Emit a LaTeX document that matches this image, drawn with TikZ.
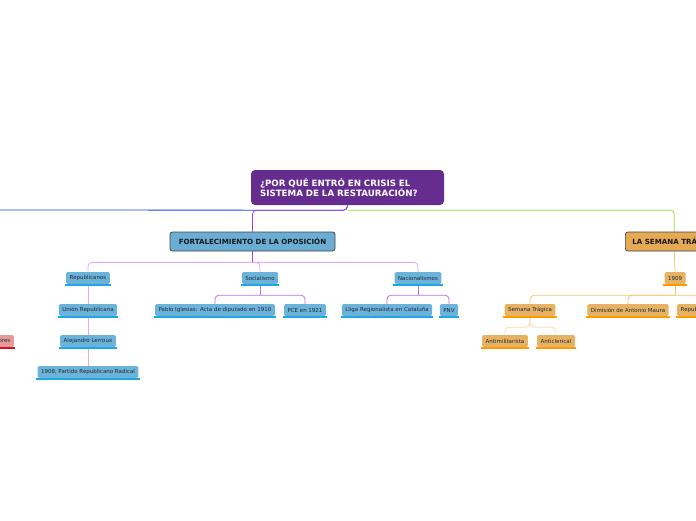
\documentclass[tikz,border=0pt]{standalone}
\usepackage{fontspec}
\setmainfont{DejaVu Sans}
\usetikzlibrary{positioning,backgrounds}

\definecolor{rootpurple}{HTML}{662D91}
\definecolor{mainblue}{HTML}{6AAED5}
\definecolor{leafblue}{HTML}{6CB3D9}
\definecolor{barblue}{HTML}{1EA6E6}
\definecolor{mainorange}{HTML}{E6AA55}
\definecolor{leaforange}{HTML}{E8B263}
\definecolor{barorange}{HTML}{FF9A00}
\definecolor{leafred}{HTML}{E89A9A}
\definecolor{barred}{HTML}{D8101E}
\definecolor{linkblue}{HTML}{1747D8}
\definecolor{linkgreen}{HTML}{8CE12B}
\definecolor{linkpurple}{HTML}{A040E6}
\definecolor{linklilac}{HTML}{DDAAF8}
\definecolor{linkmauve}{HTML}{BC6CEC}
\definecolor{linkorange}{HTML}{F8C46E}
\definecolor{linkpeach}{HTML}{FBD9A6}
\definecolor{inkdark}{HTML}{1C2B3A}

\tikzset{
  rootbox/.style={fill=rootpurple, rounded corners=4pt, text=white,
    font=\fontsize{8.7}{10.5}\selectfont\bfseries, align=left,
    text width=175, minimum height=35, inner xsep=9pt},
  mainbox/.style={draw=black!75, line width=0.7pt, rounded corners=2.5pt,
    font=\fontsize{7.1}{8}\selectfont\bfseries, text=black!90,
    minimum height=19, inner xsep=7pt},
  leafbox/.style={fill=leafblue, rounded corners=1.5pt, text=inkdark,
    font=\fontsize{5.5}{6.5}\selectfont, minimum height=12, inner xsep=3.5pt, inner ysep=1pt},
  bar/.style={line width=2pt},
  link/.style={line width=0.8pt, rounded corners=4pt},
}

\begin{document}
\begin{tikzpicture}[x=1pt,y=-1pt]
\useasboundingbox (0,0) rectangle (696,520);
\clip (0,0) rectangle (696,520);

% main nodes
\node[rootbox] (root) at (347.5,187.5) {¿POR QUÉ ENTRÓ EN CRISIS EL\\SISTEMA DE LA RESTAURACIÓN?};
\node[mainbox, fill=mainblue, minimum width=165] (fort) at (252.5,241.5) {FORTALECIMIENTO DE LA OPOSICIÓN};
\node[mainbox, fill=mainorange, anchor=west] (trag) at (625,241.5) {LA SEMANA TRÁGICA};
\coordinate (westend) at (-30,210);

% blue leaves
\node[leafbox] (rep) at (88,278) {Republicanos};
\node[leafbox] (soc) at (260,278) {Socialismo};
\node[leafbox] (nac) at (418,278) {Nacionalismos};
\node[leafbox] (uni) at (88,310) {Unión Republicana};
\node[leafbox] (pab) at (215,310) {Pablo Iglesias: Acta de diputado en 1910};
\node[leafbox] (pce) at (305,310) {PCE en 1921};
\node[leafbox] (lli) at (387,310) {Lliga Regionalista en Cataluña};
\node[leafbox] (pnv) at (449,310) {PNV};
\node[leafbox] (ale) at (88,341) {Alejandro Lerroux};
\node[leafbox] (par) at (88,372) {1908, Partido Republicano Radical};

% orange leaves
\node[leafbox, fill=leaforange] (yr) at (675,278) {1909};
\node[leafbox, fill=leaforange] (sem) at (530,310) {Semana Trágica};
\node[leafbox, fill=leaforange] (mau) at (628,310) {Dimisión de Antonio Maura};
\node[leafbox, fill=leaforange, anchor=west] (rpb) at (677,310) {Republicanos};
\node[leafbox, fill=leaforange] (mil) at (505,341) {Antimilitarista};
\node[leafbox, fill=leaforange] (cle) at (556,341) {Anticlerical};

% red leaf (cut at the left edge)
\node[leafbox, fill=leafred, anchor=east] (tra) at (14,341) {Trabajadores};

% underline bars
\foreach \n in {rep,soc,nac,uni,pab,pce,lli,pnv,ale,par}
  \draw[bar, barblue] ([xshift=-1pt,yshift=-1pt]\n.south west) -- ([xshift=1pt,yshift=-1pt]\n.south east);
\foreach \n in {yr,sem,mau,rpb,mil,cle}
  \draw[bar, barorange] ([xshift=-1pt,yshift=-1pt]\n.south west) -- ([xshift=1pt,yshift=-1pt]\n.south east);
\draw[bar, barred] ([xshift=-1pt,yshift=-1pt]tra.south west) -- ([xshift=1pt,yshift=-1pt]tra.south east);

% connectors
\begin{pgfonlayer}{background}
\draw[link, linkblue] (root.south) -- ++(0,5) -- (westend);
\draw[link, linkgreen] (root.south) ++(0,5) -| (trag.north);
\draw[link, linkpurple] (root.south) -- ++(0,5) -| (fort.north);

\draw[link, linklilac] (fort.south) ++(0,11) -| (rep.north);
\draw[link, linklilac] (fort.south) ++(0,11) -| (nac.north);
\draw[link, linklilac] (fort.south) ++(0,11) -| (soc.north);
\draw[line width=1pt, linkpurple] (fort.south) -- ++(0,11);

\draw[link, linklilac] ([yshift=-2pt]rep.south) -- (uni.north);
\draw[link, linklilac] ([yshift=-2pt]uni.south) -- (ale.north);
\draw[link, linklilac] ([yshift=-2pt]ale.south) -- (par.north);

\draw[link, linkmauve] ([yshift=-2pt]soc.south) -- ++(0,9);
\draw[link, linkmauve] ([yshift=-2pt]soc.south) ++(0,9) -| (pab.north);
\draw[link, linkmauve] ([yshift=-2pt]soc.south) ++(0,9) -| (pce.north);
\draw[link, linkmauve] ([yshift=-2pt]nac.south) -- ++(0,9);
\draw[link, linkmauve] ([yshift=-2pt]nac.south) ++(0,9) -| (lli.north);
\draw[link, linkmauve] ([yshift=-2pt]nac.south) ++(0,9) -| (pnv.north);

\draw[link, linkorange] (trag.south) -- (yr.north);
\draw[link, linkorange] ([yshift=-2pt]yr.south) -- ++(0,9);
\draw[link, linkorange] ([yshift=-2pt]yr.south) ++(0,9) -| (sem.north);
\draw[link, linkorange] ([yshift=-2pt]yr.south) ++(0,9) -| (mau.north);
\draw[link, linkorange] ([yshift=-2pt]yr.south) ++(0,9) -| (rpb.north);

\draw[link, linkpeach] ([yshift=-2pt]sem.south) -- ++(0,9) -| (mil.north);
\draw[link, linkpeach] ([yshift=-2pt]sem.south) -- ++(0,9) -| (cle.north);
\end{pgfonlayer}
\end{tikzpicture}
\end{document}
